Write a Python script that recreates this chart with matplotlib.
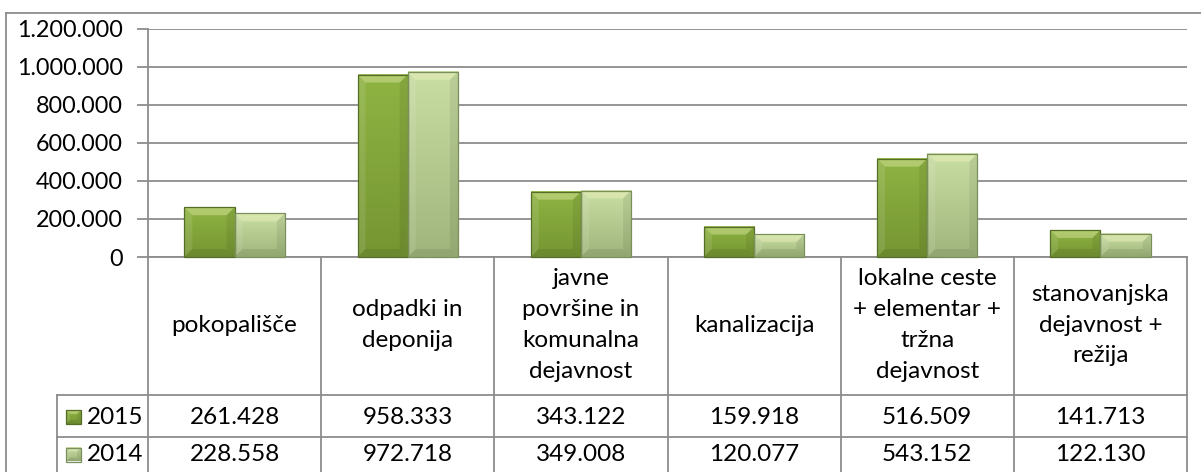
import matplotlib.pyplot as plt
import matplotlib.transforms as mtransforms
import matplotlib.colors as mcolors
from matplotlib.patches import Polygon, Rectangle
from matplotlib.lines import Line2D
from matplotlib.image import BboxImage
import numpy as np

# --- DATA ---
categories = [
    "pokopališče",
    "odpadki in\ndeponija",
    "javne\npovršine in\nkomunalna\ndejavnost",
    "kanalizacija",
    "lokalne ceste\n+ elementar +\ntržna\ndejavnost",
    "stanovanjska\ndejavnost +\nrežija",
]
series_names = ["2015", "2014"]
values_2015 = [261428, 958333, 343122, 159918, 516509, 141713]
values_2014 = [228558, 972718, 349008, 120077, 543152, 122130]
yticks = [0, 200000, 400000, 600000, 800000, 1000000, 1200000]

# --- STYLE ---
W, H = 1201, 472
FONT = "Lato"
FS = 17.5
FS_TICK = 16.8
GRID = "#8c8c8c"
# gradient top, gradient bottom, outline
PAL = {
    "2015": ["#8fb443", "#759532", "#566d27"],
    "2014": ["#c9dea3", "#9fb57b", "#7a8f5c"],
}


def fmt(v):
    return f"{v:,}".replace(",", ".")


def bevel(fig, x0, y0, x1, y1, cols, b=8):
    # x0,y0,x1,y1 in pixels (display, origin bottom-left)
    c_top, c_bot, edge = cols
    ident = mtransforms.IdentityTransform()
    t = np.linspace(0, 1, 64)[:, None]
    rgb = (1 - t) * np.array(mcolors.to_rgb(c_top)) + t * np.array(mcolors.to_rgb(c_bot))
    img = BboxImage(mtransforms.Bbox.from_extents(x0, y0, x1, y1), interpolation="bilinear", zorder=4)
    img.set_data(rgb[:, None, :].repeat(2, axis=1))
    fig.add_artist(img)
    bx = min(b, (x1 - x0) / 2.5)
    by = min(b, (y1 - y0) / 2.5)
    kw = dict(transform=ident, lw=0, zorder=4.5)
    fig.patches.append(Polygon([(x0, y1), (x1, y1), (x1 - bx, y1 - by), (x0 + bx, y1 - by)],
                               fc="#ffffcc", alpha=0.32, **kw))
    fig.patches.append(Polygon([(x0, y0), (x0, y1), (x0 + bx, y1 - by), (x0 + bx, y0 + by)],
                               fc="white", alpha=0.1, **kw))
    fig.patches.append(Polygon([(x1, y0), (x1, y1), (x1 - bx, y1 - by), (x1 - bx, y0 + by)],
                               fc="black", alpha=0.07, **kw))
    fig.patches.append(Polygon([(x0, y0), (x1, y0), (x1 - bx, y0 + by), (x0 + bx, y0 + by)],
                               fc="black", alpha=0.08, **kw))
    fig.patches.append(Rectangle((x0, y0), x1 - x0, y1 - y0, fc="none", ec=edge,
                                 lw=0.9, transform=ident, zorder=5))


fig = plt.figure(figsize=(W / 100, H / 100), dpi=100)
plt.rcParams["font.family"] = [FONT, "DejaVu Sans"]

# plot area (pixels from top-left)
px_left, px_right, px_top, px_zero = 148, 1187, 28.5, 257
ax = fig.add_axes([px_left / W, 1 - px_zero / H, (px_right - px_left) / W, (px_zero - px_top) / H])
ax.set_xlim(-0.5, len(categories) - 0.5)
ax.set_ylim(0, 1200000)
ax.set_yticks(yticks)
ax.set_yticklabels([fmt(v) for v in yticks], fontsize=FS_TICK, fontfamily=FONT)
ax.tick_params(axis="y", length=8, width=1.3, color=GRID, pad=10)
ax.set_xticks([])
for s in ["top", "right", "bottom"]:
    ax.spines[s].set_visible(False)
ax.spines["left"].set_color(GRID)
ax.spines["left"].set_linewidth(1.3)
ax.grid(axis="y", color=GRID, lw=1.3)
ax.set_axisbelow(True)

x = np.arange(len(categories))
bw = 0.29
bars15 = ax.bar(x - bw / 2, values_2015, bw, color="none")
bars14 = ax.bar(x + bw / 2, values_2014, bw, color="none")

fig.canvas.draw()
for bars, name in [(bars15, "2015"), (bars14, "2014")]:
    for r in bars:
        bb = r.get_window_extent()
        bevel(fig, bb.x0, bb.y0, bb.x1, bb.y1, PAL[name])

# --- data table (x in data units, y in figure pixels from top) ---
pix = mtransforms.Affine2D().scale(1, -1).translate(0, H)
tr = mtransforms.blended_transform_factory(ax.transData, pix)
trf = pix  # pure pixel transform
row_hdr_bottom, row1_bottom, row2_bottom = 395, 437, 480
lkw = dict(color=GRID, lw=1.3, clip_on=False, zorder=3)

# horizontal lines
ax.add_line(Line2D([-0.5, len(categories) - 0.5], [px_zero, px_zero], transform=tr, **lkw))
fig.add_artist(Line2D([57, px_right], [row_hdr_bottom, row_hdr_bottom], transform=trf, color=GRID, lw=1.3))
fig.add_artist(Line2D([57, px_right], [row1_bottom, row1_bottom], transform=trf, color=GRID, lw=1.3))
# vertical lines
for b in np.arange(len(categories) + 1) - 0.5:
    ax.add_line(Line2D([b, b], [px_zero, row2_bottom], transform=tr, **lkw))
fig.add_artist(Line2D([57, 57], [row_hdr_bottom, row2_bottom], transform=trf, color=GRID, lw=1.3))

# category labels
for i, c in enumerate(categories):
    ax.text(i, (px_zero + row_hdr_bottom) / 2 - 1, c, transform=tr, ha="center", va="center",
            fontsize=FS, fontfamily=FONT, linespacing=1.58, clip_on=False)

# value rows
rows = [(values_2015, "2015", row_hdr_bottom, row1_bottom),
        (values_2014, "2014", row1_bottom, row2_bottom)]
for vals, name, ytop, ybot in rows:
    yc = (ytop + min(ybot, 474)) / 2 + (1 if name == "2015" else -1)
    for i, v in enumerate(vals):
        ax.text(i, yc, fmt(v), transform=tr, ha="center", va="center",
                fontsize=FS, fontfamily=FONT, clip_on=False)
    fig.text(87 / W, 1 - yc / H, name, ha="left", va="center", fontsize=FS, fontfamily=FONT)
    # legend key
    bevel(fig, 66, H - yc - 7, 81, H - yc + 7, PAL[name], b=4)

# outer chart border
fig.add_artist(Line2D([6, W], [13, 13], transform=trf, color=GRID, lw=1.3))
fig.add_artist(Line2D([6, 6], [13, H], transform=trf, color=GRID, lw=1.3))

fig.savefig("out.png", dpi=100)
